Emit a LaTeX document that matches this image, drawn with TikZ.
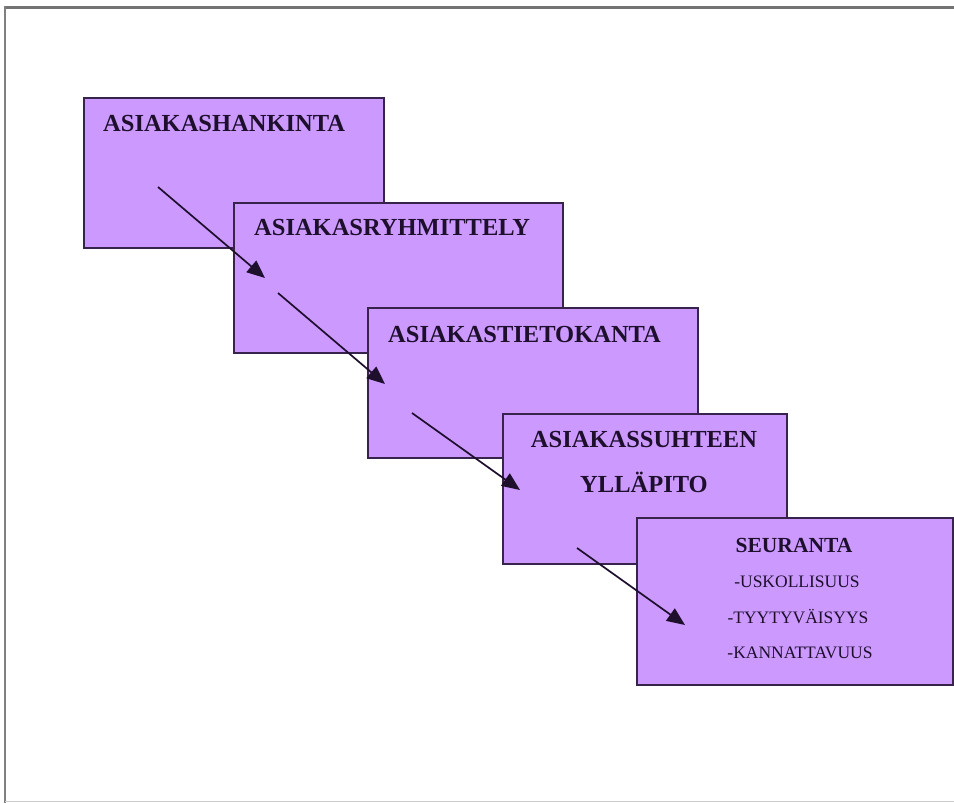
\documentclass[tikz,border=0pt]{standalone}
\usepackage{fontspec}
\setmainfont{Liberation Serif}
\usetikzlibrary{arrows.meta}
\definecolor{boxfill}{RGB}{204,153,255}
\definecolor{boxline}{RGB}{55,35,75}
\definecolor{arrowcol}{RGB}{30,15,45}
\definecolor{txtcol}{RGB}{30,15,45}
\tikzset{
  stagebox/.style={draw=boxline, line width=2pt, fill=boxfill, rectangle, anchor=north west, inner sep=0pt},
  headtxt/.style={inner sep=0pt, text=txtcol, font=\fontsize{24.5}{28}\selectfont\bfseries},
  subhead/.style={inner sep=0pt, text=txtcol, font=\fontsize{21.5}{26}\selectfont\bfseries},
  itemtxt/.style={inner sep=0pt, text=txtcol, font=\fontsize{17.5}{21}\selectfont},
  flowarrow/.style={draw=arrowcol, line width=1.7pt, -{Triangle[length=18pt,width=15pt]}}
}
\begin{document}
\begin{tikzpicture}[x=1pt,y=-1pt]
\useasboundingbox (0,0) rectangle (954,803);
% frame
\draw[color=black!55, line width=3pt] (5,7.5) -- (956,7.5);
\draw[color=black!50, line width=2pt] (5,6) -- (5,803);
\draw[color=black!20, line width=1.5pt] (5,801.5) -- (956,801.5);
% boxes
\node[stagebox, minimum width=300pt, minimum height=150pt] (b1) at (83,97) {};
\node[stagebox, minimum width=329pt, minimum height=150pt] (b2) at (233,202) {};
\node[stagebox, minimum width=330pt, minimum height=150pt] (b3) at (367,307) {};
\node[stagebox, minimum width=284pt, minimum height=150pt] (b4) at (502,413) {};
\node[stagebox, minimum width=316pt, minimum height=167pt] (b5) at (636,517) {};
% texts
\node[headtxt, anchor=base west] (t1) at (103,131) {ASIAKASHANKINTA};
\node[headtxt, anchor=base west] (t2) at (254,235) {ASIAKASRYHMITTELY};
\node[headtxt, anchor=base west] (t3) at (388,342) {ASIAKASTIETOKANTA};
\node[headtxt, anchor=base] (t4a) at (644,447) {ASIAKASSUHTEEN};
\node[headtxt, anchor=base] (t4b) at (644,492) {YLLÄPITO};
\node[subhead, anchor=base] (t5) at (794,552) {SEURANTA};
\node[itemtxt, anchor=base] (i1) at (797,587) {-USKOLLISUUS};
\node[itemtxt, anchor=base] (i2) at (798,623) {-TYYTYVÄISYYS};
\node[itemtxt, anchor=base] (i3) at (800,658) {-KANNATTAVUUS};
% arrow ends
\coordinate (a1s) at (158,187);
\coordinate (a1e) at (265,278);
\coordinate (a2s) at (278,293);
\coordinate (a2e) at (385,384);
\coordinate (a3s) at (412,413);
\coordinate (a3e) at (520,490);
\coordinate (a4s) at (577,548);
\coordinate (a4e) at (685,625);
\draw[flowarrow] (a1s) -- (a1e);
\draw[flowarrow] (a2s) -- (a2e);
\draw[flowarrow] (a3s) -- (a3e);
\draw[flowarrow] (a4s) -- (a4e);
\end{tikzpicture}
\end{document}
